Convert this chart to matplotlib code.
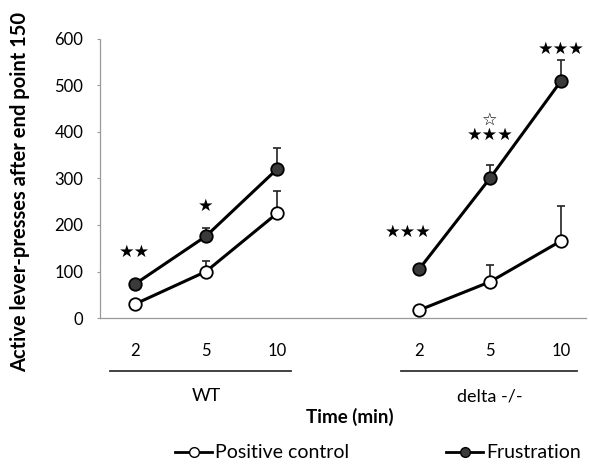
import matplotlib
matplotlib.use("Agg")
import matplotlib.pyplot as plt
from matplotlib.lines import Line2D
import matplotlib.transforms as mtransforms
import numpy as np

groups = ["WT", "delta -/-"]
times = ["2", "5", "10"]
positive_wt = [30, 100, 225]
positive_wt_err = [0, 22, 47]
frustration_wt = [73, 176, 320]
frustration_wt_err = [0, 17, 46]
positive_delta = [17, 78, 166]
positive_delta_err = [0, 36, 75]
frustration_delta = [105, 301, 510]
frustration_delta_err = [0, 28, 45]
star_labels = [["★★", "★", ""], ["★★★", "☆\n★★★", "★★★"]]
star_y = [[123, 222, None], [165, 375, 560]]

plt.rcParams['font.family'] = ['Lato', 'DejaVu Sans']

fig = plt.figure(figsize=(5.89, 4.74), dpi=100)
ax = fig.add_axes([0.170, 0.329, 0.825, 0.589])

xpos_groups = [np.array([0, 1, 2]), np.array([4, 5, 6])]
series = [
    (positive_wt, positive_wt_err, frustration_wt, frustration_wt_err),
    (positive_delta, positive_delta_err, frustration_delta, frustration_delta_err),
]
for xs, (pv, pe, fv, fe) in zip(xpos_groups, series):
    ax.errorbar(xs, pv, yerr=[np.zeros(3), pe], fmt='none', ecolor='#222222',
                elinewidth=1.2, capsize=3, capthick=1.2, zorder=2)
    ax.errorbar(xs, fv, yerr=[np.zeros(3), fe], fmt='none', ecolor='#222222',
                elinewidth=1.2, capsize=3, capthick=1.2, zorder=2)
    ax.plot(xs, pv, '-o', color='black', lw=2.2, markersize=9,
            markerfacecolor='white', markeredgecolor='black', markeredgewidth=1.3, zorder=3)
    ax.plot(xs, fv, '-o', color='black', lw=2.2, markersize=9,
            markerfacecolor='#3a3a3a', markeredgecolor='black', markeredgewidth=1.3, zorder=3)

for xs, labels, ys in zip(xpos_groups, star_labels, star_y):
    for x, lab, y in zip(xs, labels, ys):
        if lab:
            ax.text(x - (0.15 if (x == 4) else 0), y, lab, ha='center', va='bottom',
                    fontsize=12.5, family='DejaVu Sans', linespacing=0.8,
                    fontweight='bold')

ax.set_xlim(-0.49, 6.35)
ax.set_ylim(0, 600)
ax.set_yticks([0, 100, 200, 300, 400, 500, 600])
ax.tick_params(axis='y', labelsize=12, length=2, color='#999999', pad=10)
ax.set_xticks([0, 1, 2, 4, 5, 6])
ax.set_xticklabels(times + times, fontsize=12)
ax.tick_params(axis='x', length=0, pad=18)
for s in ['top', 'right']:
    ax.spines[s].set_visible(False)
for s in ['left', 'bottom']:
    ax.spines[s].set_color('#999999')
    ax.spines[s].set_linewidth(0.9)
    ax.spines[s].set_linestyle((0, (1, 1)))

fig.text(20 / 589, 1 - 192 / 474, "Active lever-presses after end point 150",
         fontsize=14.5, fontweight='bold', rotation=90, ha='center', va='center')

trans = mtransforms.blended_transform_factory(ax.transData, fig.transFigure)
for (x0, x1), g, xc in zip([(-0.35, 2.2), (3.75, 6.22)], groups, [1, 5]):
    fig.add_artist(Line2D([x0, x1], [1 - 371 / 474] * 2, transform=trans,
                          color='#333333', lw=1.3))
    t = fig.text(0, 1 - 396 / 474, g, fontsize=13, ha='center', va='center')
    t.set_transform(trans)
    t.set_x(xc)

fig.text(350 / 589, 1 - 417 / 474, "Time (min)", fontsize=13.5, fontweight='bold',
         ha='center', va='center')

handles = [
    Line2D([], [], color='black', lw=2, marker='o', markersize=7,
           markerfacecolor='white', markeredgecolor='black'),
    Line2D([], [], color='black', lw=2, marker='o', markersize=7,
           markerfacecolor='#3a3a3a', markeredgecolor='black'),
]
fig.legend(handles, ["Positive control", "Frustration"], loc='center',
           bbox_to_anchor=(0.642, 1 - 453 / 474), ncol=2, frameon=False, fontsize=14,
           handlelength=1.9, handletextpad=0.15, columnspacing=5.0)

fig.savefig("out.png", dpi=100)
